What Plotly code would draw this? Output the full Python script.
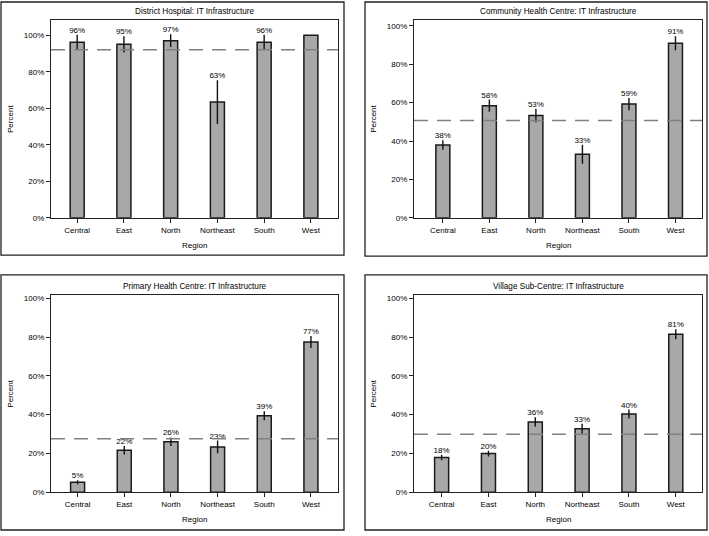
"""Four-panel bar chart: IT infrastructure by region, per facility type."""

import plotly.graph_objects as go

W, H = 709, 536

regions = ["Central", "East", "North", "Northeast", "South", "West"]
pct_ticks = [0, 20, 40, 60, 80, 100]

dh_title = "District Hospital: IT Infrastructure"
dh_pct = [96.2, 95.0, 97.0, 63.4, 96.2, 100.0]
dh_err = [4.0, 4.5, 3.5, 12.0, 4.0, 0.0]
dh_labels = ["96%", "95%", "97%", "63%", "96%", ""]
dh_ref = 92.1

chc_title = "Community Health Centre: IT Infrastructure"
chc_pct = [37.9, 58.4, 53.3, 33.1, 59.2, 90.9]
chc_err = [2.5, 3.2, 3.5, 5.0, 3.2, 3.6]
chc_labels = ["38%", "58%", "53%", "33%", "59%", "91%"]
chc_ref = 50.7

phc_title = "Primary Health Centre: IT Infrastructure"
phc_pct = [5.1, 21.6, 26.0, 23.3, 39.4, 77.4]
phc_err = [1.0, 2.2, 2.2, 3.3, 2.3, 3.1]
phc_labels = ["5%", "22%", "26%", "23%", "39%", "77%"]
phc_ref = 27.6

vsc_title = "Village Sub-Centre: IT Infrastructure"
vsc_pct = [17.9, 19.9, 36.2, 32.7, 40.3, 81.4]
vsc_err = [1.4, 1.5, 2.4, 2.6, 2.3, 2.6]
vsc_labels = ["18%", "20%", "36%", "33%", "40%", "81%"]
vsc_ref = 29.8

# panel geometry in pixels: plot area (left, right, top, bottom), outer box, ranges
panels = [
    dict(title=dh_title, pct=dh_pct, err=dh_err, labels=dh_labels, ref=dh_ref,
         plot=(51, 338, 19.3, 219.3), box=(1, 344, 1, 257),
         xr=[-0.56, 5.58], yr=[0, 108.3]),
    dict(title=chc_title, pct=chc_pct, err=chc_err, labels=chc_labels, ref=chc_ref,
         plot=(414, 702, 19.0, 219.3), box=(365, 707, 1, 258),
         xr=[-0.62, 5.57], yr=[0, 103.1]),
    dict(title=phc_title, pct=phc_pct, err=phc_err, labels=phc_labels, ref=phc_ref,
         plot=(51, 338, 297.5, 496.7), box=(1, 344, 277, 535),
         xr=[-0.57, 5.58], yr=[0, 101.6]),
    dict(title=vsc_title, pct=vsc_pct, err=vsc_err, labels=vsc_labels, ref=vsc_ref,
         plot=(414, 702, 297.5, 496.7), box=(365, 707, 277, 535),
         xr=[-0.59, 5.56], yr=[0, 101.6]),
]

FONT = "Arial, Liberation Sans, sans-serif"
FS = 8


def px(x):
    return x / W


def py(y):
    return 1 - y / H


def note(text, x, y, size=FS, angle=0):
    return dict(text=text, x=px(x), y=py(y), xref="paper", yref="paper",
                xanchor="center", yanchor="middle", showarrow=False,
                textangle=angle, font=dict(size=size, color="black"))


fig = go.Figure()
annotations = []
shapes = []

for i, p in enumerate(panels, start=1):
    xa = "x" if i == 1 else f"x{i}"
    ya = "y" if i == 1 else f"y{i}"
    left, right, top, bottom = p["plot"]

    fig.add_bar(
        x=regions, y=p["pct"], xaxis=xa, yaxis=ya, width=0.3,
        marker=dict(color="#a8a8a8", line=dict(color="#1a1a1a", width=1.5)),
        error_y=dict(type="data", array=p["err"], width=0, thickness=1.4,
                     color="#111111"),
        showlegend=False, hoverinfo="skip",
    )
    fig.add_scatter(
        x=regions, y=[v + e for v, e in zip(p["pct"], p["err"])],
        text=p["labels"], mode="text", textposition="top center",
        textfont=dict(size=FS, color="black"),
        xaxis=xa, yaxis=ya, showlegend=False, hoverinfo="skip", cliponaxis=False,
    )

    axis_common = dict(showline=True, mirror=True, linecolor="#222222",
                       linewidth=1.2, ticks="outside", ticklen=4,
                       tickcolor="#222222", showgrid=False, zeroline=False,
                       tickfont=dict(size=FS, color="black"), fixedrange=True)
    fig.update_layout({
        f"xaxis{'' if i == 1 else i}": dict(
            axis_common, domain=[px(left), px(right)], anchor=ya,
            range=p["xr"], type="category"),
        f"yaxis{'' if i == 1 else i}": dict(
            axis_common, domain=[py(bottom), py(top)], anchor=xa,
            range=p["yr"], tickmode="array", tickvals=pct_ticks,
            ticktext=[f"{t}%" for t in pct_ticks]),
    })

    shapes.append(dict(type="line", xref=f"{xa} domain", yref=ya,
                       x0=0, x1=1, y0=p["ref"], y1=p["ref"],
                       line=dict(color="#808080", width=1.5, dash="14px,9px")))
    bx0, bx1, by0, by1 = p["box"]
    shapes.append(dict(type="rect", xref="paper", yref="paper",
                       x0=px(bx0), x1=px(bx1), y0=py(by1), y1=py(by0),
                       line=dict(color="#222222", width=1.3)))

    cx = (left + right) / 2
    annotations += [
        note(p["title"], cx, top - 8.5, size=8.2),
        note("Region", cx, bottom + 28),
        note("Percent", left - 40, (top + bottom) / 2, angle=-90),
    ]

fig.update_layout(
    width=W, height=H,
    margin=dict(l=0, r=0, t=0, b=0),
    paper_bgcolor="white", plot_bgcolor="white",
    font=dict(family=FONT, size=FS, color="black"),
    shapes=shapes, annotations=annotations,
)

# page body has a default 8px margin; drop it so the figure sits at the corner
fig.write_html("out.html", config={"displayModeBar": False},
               post_script="document.body.style.margin = '0';")
